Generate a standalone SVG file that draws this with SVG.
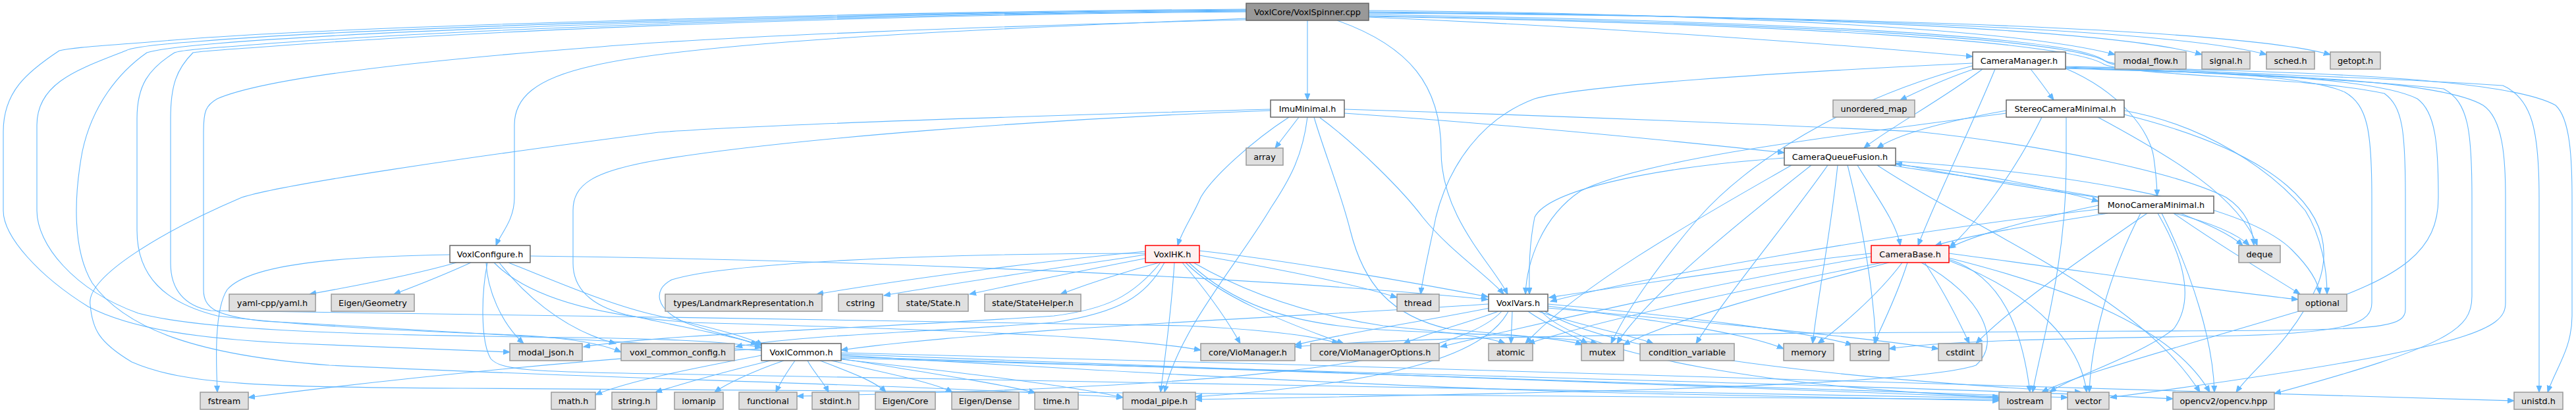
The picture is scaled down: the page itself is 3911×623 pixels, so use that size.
<svg xmlns="http://www.w3.org/2000/svg" width="3911" height="623" viewBox="0 0 3911 623">
<style>
.e{fill:none;stroke:#63B8FF;stroke-width:1.1;marker-end:url(#a)}
.nw{fill:#FFFFFF;stroke:#666666;stroke-width:1.5}
.ng{fill:#E0E0E0;stroke:#999999;stroke-width:1.5}
.nr{fill:#FFF0F0;stroke:#FF0000;stroke-width:1.5}
.nm{fill:#999999;stroke:#666666;stroke-width:1.5}
text{font-family:"DejaVu Sans","Liberation Sans",Arial,sans-serif;font-size:12.8px;text-anchor:middle;fill:#000}
</style>
<defs>
<marker id="a" markerUnits="userSpaceOnUse" markerWidth="12" markerHeight="10" refX="10" refY="4" orient="auto"><path d="M0,0 L10,4 L0,8 z" fill="#63B8FF" stroke="#63B8FF"/></marker>
</defs>
<rect width="3911" height="623" fill="#FFFFFF"/>
<g id="edges">
<!-- main -->
<path class="e" d="M1985,31 L1985,152"/>
<path class="e" d="M2030,31 C2140,70 2188,130 2188,230 C2188,330 2265,400 2289,447"/>
<path class="e" d="M2078,26 C2450,42 2800,68 2995,86"/>
<path class="e" d="M2078,16 C2550,20 3050,40 3211,83"/>
<path class="e" d="M2078,18 C2650,22 3200,42 3343,83"/>
<path class="e" d="M2078,19 C2750,24 3300,44 3441,83"/>
<path class="e" d="M2078,20 C2850,25 3400,45 3538,83"/>
<path class="e" d="M2078,22 C2700,32 3150,55 3195,92 C3240,112 3500,110 3800,130 C3845,150 3855,200 3855,300 L3855,596"/>
<path class="e" d="M2078,24 C2700,34 3150,58 3200,95 C3240,114 3500,112 3710,135 C3748,155 3753,200 3753,300 L3753,450 C3753,500 3720,525 3453,598"/>
<path class="e" d="M2078,25 C2700,36 3140,62 3195,98 C3240,116 3500,116 3620,142 C3648,162 3652,200 3652,300 L3652,470 C3652,495 3620,500 3450,502 C3000,505 2200,505 1966,527"/>
<path class="e" d="M1892,28 C1450,45 1050,65 900,100 C810,120 781,150 781,190 L781,300 C781,335 760,355 753,373"/>
<path class="e" d="M1892,14 C1300,18 500,40 250,62 C150,70 110,72 90,77 C40,110 5,140 5,200 L5,320 C5,360 60,420 134,466 C200,500 300,515 450,522 C600,528 700,532 774,535"/>
<path class="e" d="M1892,15 C1300,19 550,42 300,63 C230,68 200,72 191,77 C120,105 56,125 56,190 L56,320 C56,370 110,440 210,476 C300,500 500,508 800,512 C1000,514 1100,518 1156,528"/>
<path class="e" d="M1892,16 C1300,20 600,44 330,66 C260,72 235,76 223,80 C180,110 140,160 125,230 C112,300 110,380 140,430 C190,500 300,540 500,555 C900,575 1400,585 1705,604"/>
<path class="e" d="M1892,17 C1300,21 650,46 360,70 C300,74 270,78 265,80 C225,105 208,130 208,180 L208,350 C208,420 250,460 330,480 C500,500 700,505 800,510 C880,515 920,525 943,535"/>
<path class="e" d="M1892,18 C1300,22 700,48 390,72 C330,76 305,78 293,80 C268,105 259,130 259,180 L259,400 C259,440 280,465 320,472 C700,480 1400,485 1800,495 C1900,500 1990,508 2032,522"/>
<path class="e" d="M1892,30 C1500,40 1100,55 900,72 C600,95 400,120 330,150 C312,160 309,170 309,200 L309,440 C309,470 330,480 400,488 C1000,520 1900,585 2500,598 C2800,603 2950,606 3035,609"/>
<!-- ImuMinimal -->
<path class="e" d="M1972,178 L1936,225"/>
<path class="e" d="M1957,178 C1900,215 1840,270 1823,300 C1810,330 1795,350 1788,373"/>
<path class="e" d="M1985,178 C1978,235 1960,270 1930,315 C1880,400 1790,500 1768,596"/>
<path class="e" d="M2041,172 C2300,190 2550,215 2709,232"/>
<path class="e" d="M2003,178 C2060,220 2130,290 2160,330 C2200,380 2260,420 2283,447"/>
<path class="e" d="M1929,168 C1600,180 1200,210 1000,243 C900,260 870,280 870,320 L870,400 C870,440 900,465 950,478 C1050,500 1120,512 1156,525"/>
<path class="e" d="M1929,166 C1500,178 1150,190 1000,201 C700,240 430,280 367,300 C250,350 130,420 137,463 C140,500 150,520 200,550 C280,585 400,588 700,590 C1500,596 2500,600 3035,607"/>
<path class="e" d="M2041,166 C2500,180 2800,195 2911,200 C3100,220 3300,260 3380,300 C3410,320 3420,345 3422,373"/>
<path class="e" d="M1995,178 C2010,230 2035,290 2050,350 C2070,430 2110,480 2200,500 C2300,510 2380,515 2402,524"/>
<!-- VoxlConfigure -->
<path class="e" d="M683,387 C520,390 380,400 345,440 C325,470 328,550 330,596"/>
<path class="e" d="M693,399 C620,420 520,438 470,447"/>
<path class="e" d="M715,399 C680,415 630,435 598,447"/>
<path class="e" d="M738,399 C740,440 760,490 795,522"/>
<path class="e" d="M758,399 C790,440 850,500 935,522"/>
<path class="e" d="M772,399 C850,430 930,465 1000,480 C1070,495 1130,510 1158,524"/>
<path class="e" d="M805,389 C1300,395 1900,420 2259,455"/>
<path class="e" d="M750,399 C800,450 900,480 1050,490 C1400,500 1700,510 1823,532"/>
<path class="e" d="M740,399 C730,450 730,520 745,545 C760,562 800,565 1000,568 C1800,580 2600,600 3035,605"/>
<!-- VoxlHK -->
<path class="e" d="M1739,382 C1600,395 1400,420 1240,447"/>
<path class="e" d="M1739,387 C1620,405 1450,430 1342,449"/>
<path class="e" d="M1742,392 C1650,410 1550,430 1472,447"/>
<path class="e" d="M1760,399 C1700,415 1650,432 1610,447"/>
<path class="e" d="M1739,385 C1400,385 1100,400 1020,425 C990,440 995,470 1040,490 C1080,505 1120,512 1150,524"/>
<path class="e" d="M1762,399 C1720,450 1680,470 1600,480 C1300,500 1000,508 886,527"/>
<path class="e" d="M1768,399 C1740,450 1700,475 1600,490 C1400,505 1200,510 1117,527"/>
<path class="e" d="M1795,399 C1830,440 1860,480 1883,522"/>
<path class="e" d="M1783,399 C1780,450 1772,520 1762,596"/>
<path class="e" d="M1821,381 C1950,395 2150,430 2259,451"/>
<path class="e" d="M1821,388 C1950,410 2050,430 2121,452"/>
<path class="e" d="M1812,399 C1900,450 2000,480 2100,495 C2200,505 2260,512 2285,522"/>
<path class="e" d="M1805,399 C1870,460 1950,490 2080,500 C2200,508 2380,510 2425,522"/>
<path class="e" d="M1800,399 C1850,450 1950,490 2040,522"/>
<!-- VoxlVars -->
<path class="e" d="M2275,473 C2230,490 2170,505 2131,522"/>
<path class="e" d="M2296,473 L2294,522"/>
<path class="e" d="M2320,473 C2350,495 2390,510 2410,522"/>
<path class="e" d="M2335,473 C2400,495 2480,510 2510,522"/>
<path class="e" d="M2350,465 C2500,485 2650,505 2708,530"/>
<path class="e" d="M2350,462 C2550,480 2750,505 2812,524"/>
<path class="e" d="M2350,468 C2600,490 2850,515 2943,530"/>
<path class="e" d="M2260,462 C2000,480 1500,500 1277,532"/>
<path class="e" d="M2262,468 C2150,490 2050,505 1966,524"/>
<path class="e" d="M2290,473 C2260,530 2150,580 1815,603"/>
<path class="e" d="M2340,473 C2400,540 2700,590 3035,603"/>
<path class="e" d="M2345,473 C2450,540 2800,575 3160,596"/>
<path class="e" d="M2280,473 C2200,560 1800,590 1210,602"/>
<!-- CameraBase -->
<path class="e" d="M2841,385 C2700,400 2500,430 2352,452"/>
<path class="e" d="M2841,390 C2600,430 2300,500 2187,527"/>
<path class="e" d="M2858,399 C2700,430 2450,480 2320,522"/>
<path class="e" d="M2868,399 C2750,430 2550,480 2465,524"/>
<path class="e" d="M2888,399 C2850,450 2790,500 2760,522"/>
<path class="e" d="M2896,399 C2880,450 2855,500 2845,522"/>
<path class="e" d="M2922,399 C2950,440 2975,490 2990,522"/>
<path class="e" d="M2959,385 C3150,410 3350,440 3489,455"/>
<path class="e" d="M2959,392 C3150,440 3300,500 3355,596"/>
<path class="e" d="M2959,394 C3040,420 3070,500 3082,596"/>
<path class="e" d="M2959,396 C3100,450 3160,530 3168,596"/>
<path class="e" d="M2917,399 C3010,450 3040,520 3000,555 C2900,590 2200,600 1815,607"/>
<!-- CameraManager -->
<path class="e" d="M3000,104 C2950,120 2910,140 2885,152"/>
<path class="e" d="M3083,105 C3095,120 3108,138 3118,152"/>
<path class="e" d="M3136,104 C3220,140 3265,200 3270,240 C3274,270 3275,285 3275,298"/>
<path class="e" d="M3010,105 C2950,150 2860,200 2830,225"/>
<path class="e" d="M3029,105 C2990,200 2940,300 2912,373"/>
<path class="e" d="M2995,96 C2700,110 2400,130 2330,150 C2250,180 2200,250 2180,330 C2170,380 2160,420 2157,447"/>
<path class="e" d="M2995,100 C2800,150 2650,250 2580,330 C2520,400 2470,470 2446,522"/>
<path class="e" d="M3136,102 C3300,108 3500,112 3560,140 C3595,160 3601,200 3601,300 L3601,460 C3601,490 3570,505 3400,510 C3100,515 2950,518 2868,530"/>
<path class="e" d="M3136,103 C3350,110 3600,115 3670,150 C3698,170 3702,220 3702,300 C3702,380 3650,420 3500,470 C3300,530 3150,570 3100,596"/>
<path class="e" d="M3136,104 C3400,112 3700,118 3770,160 C3800,180 3804,240 3804,300 L3804,460 C3804,500 3760,530 3204,604"/>
<path class="e" d="M3136,101 C3450,108 3800,115 3880,160 C3902,180 3905,240 3905,300 L3905,480 C3905,530 3880,560 3868,596"/>
<!-- CameraQueueFusion -->
<path class="e" d="M2820,251 C2850,300 2880,340 2885,373"/>
<path class="e" d="M2709,240 C2500,255 2350,290 2330,330 C2320,380 2322,420 2322,447"/>
<path class="e" d="M2720,251 C2600,320 2400,430 2316,522"/>
<path class="e" d="M2750,251 C2650,330 2500,450 2455,522"/>
<path class="e" d="M2775,251 C2720,330 2620,450 2575,522"/>
<path class="e" d="M2790,251 C2780,350 2760,450 2752,522"/>
<path class="e" d="M2805,251 C2830,350 2845,450 2848,522"/>
<path class="e" d="M2870,251 C3050,280 3350,310 3415,373"/>
<path class="e" d="M2878,245 C3100,260 3400,300 3480,380 C3510,410 3520,430 3522,447"/>
<path class="e" d="M2878,250 C3000,262 3100,282 3186,306"/>
<path class="e" d="M2850,251 C3000,350 3250,450 3340,596"/>
<!-- StereoCameraMinimal -->
<path class="e" d="M3046,168 C2950,185 2880,205 2850,225"/>
<path class="e" d="M3100,178 C3060,260 3000,340 2960,376"/>
<path class="e" d="M3137,178 L3137,250 C3137,400 3100,520 3086,596"/>
<path class="e" d="M3185,178 C3300,240 3400,300 3427,373"/>
<path class="e" d="M3225,168 C3350,190 3450,260 3500,320 C3525,360 3533,410 3533,447"/>
<path class="e" d="M3225,174 C3450,230 3560,320 3520,430 C3480,520 3420,560 3395,596"/>
<path class="e" d="M3046,172 C2800,205 2500,240 2400,290 C2340,330 2318,400 2316,447"/>
<!-- MonoCameraMinimal -->
<path class="e" d="M3186,312 C3100,330 3000,355 2959,377"/>
<path class="e" d="M3200,324 C3100,340 3000,355 2938,373"/>
<path class="e" d="M3186,300 C3050,282 2950,262 2878,248"/>
<path class="e" d="M3186,318 C2900,350 2500,420 2354,458"/>
<path class="e" d="M3260,324 C3150,400 3050,470 3000,522"/>
<path class="e" d="M3310,324 C3350,340 3385,355 3405,373"/>
<path class="e" d="M3300,324 C3380,380 3450,420 3492,447"/>
<path class="e" d="M3282,324 C3330,420 3360,520 3362,596"/>
<path class="e" d="M3276,324 C3320,400 3330,460 3300,500 C3250,540 3150,570 3112,596"/>
<path class="e" d="M3250,324 C3200,420 3175,520 3172,596"/>
<!-- VoxlCommon -->
<path class="e" d="M1156,530 C900,545 600,575 377,604"/>
<path class="e" d="M1156,540 C1050,560 950,580 904,600"/>
<path class="e" d="M1170,548 C1100,565 1030,585 995,596"/>
<path class="e" d="M1190,548 C1140,565 1100,585 1085,596"/>
<path class="e" d="M1207,548 C1195,565 1185,580 1178,596"/>
<path class="e" d="M1226,548 C1235,565 1250,580 1258,596"/>
<path class="e" d="M1245,548 C1290,565 1330,580 1345,596"/>
<path class="e" d="M1262,548 C1340,565 1420,582 1446,596"/>
<path class="e" d="M1277,545 C1400,565 1530,585 1572,597"/>
<path class="e" d="M1277,546 C1450,565 1620,585 1705,604"/>
<path class="e" d="M1277,538 C2000,560 2700,590 3035,604"/>
<path class="e" d="M1277,542 C2000,565 2800,590 3139,604"/>
<path class="e" d="M1277,544 C2200,570 3000,590 3299,606"/>
<path class="e" d="M1277,536 C2200,560 3300,590 3817,609"/>
</g>
<g id="n_main"><rect class="nm" x="1892" y="5" width="186" height="26"/><text x="1985" y="22.5">VoxlCore/VoxlSpinner.cpp</text></g>
<g id="n_CameraManager"><rect class="nw" x="2995" y="79" width="141" height="26"/><text x="3065.5" y="96.5">CameraManager.h</text></g>
<g id="n_modal_flow"><rect class="ng" x="3211" y="79" width="108" height="26"/><text x="3265" y="96.5">modal_flow.h</text></g>
<g id="n_signal"><rect class="ng" x="3343" y="79" width="73" height="26"/><text x="3379.5" y="96.5">signal.h</text></g>
<g id="n_sched"><rect class="ng" x="3441" y="79" width="73" height="26"/><text x="3477.5" y="96.5">sched.h</text></g>
<g id="n_getopt"><rect class="ng" x="3538" y="79" width="76" height="26"/><text x="3576" y="96.5">getopt.h</text></g>
<g id="n_ImuMinimal"><rect class="nw" x="1929" y="152" width="112" height="26"/><text x="1985" y="169.5">ImuMinimal.h</text></g>
<g id="n_unordered_map"><rect class="ng" x="2783" y="152" width="124" height="26"/><text x="2845" y="169.5">unordered_map</text></g>
<g id="n_StereoCameraMinimal"><rect class="nw" x="3046" y="152" width="179" height="26"/><text x="3135.5" y="169.5">StereoCameraMinimal.h</text></g>
<g id="n_array"><rect class="ng" x="1892" y="225" width="56" height="26"/><text x="1920" y="242.5">array</text></g>
<g id="n_CameraQueueFusion"><rect class="nw" x="2709" y="225" width="169" height="26"/><text x="2793.5" y="242.5">CameraQueueFusion.h</text></g>
<g id="n_MonoCameraMinimal"><rect class="nw" x="3186" y="298" width="175" height="26"/><text x="3273.5" y="315.5">MonoCameraMinimal.h</text></g>
<g id="n_VoxlConfigure"><rect class="nw" x="683" y="373" width="122" height="26"/><text x="744" y="390.5">VoxlConfigure.h</text></g>
<g id="n_VoxlHK"><rect class="nr" x="1739" y="373" width="82" height="26"/><text x="1780" y="390.5">VoxlHK.h</text></g>
<g id="n_CameraBase"><rect class="nr" x="2841" y="373" width="118" height="26"/><text x="2900" y="390.5">CameraBase.h</text></g>
<g id="n_deque"><rect class="ng" x="3399" y="373" width="63" height="26"/><text x="3430.5" y="390.5">deque</text></g>
<g id="n_yaml"><rect class="ng" x="348" y="447" width="131" height="26"/><text x="413.5" y="464.5">yaml-cpp/yaml.h</text></g>
<g id="n_EigenGeometry"><rect class="ng" x="503" y="447" width="126" height="26"/><text x="566" y="464.5">Eigen/Geometry</text></g>
<g id="n_Landmark"><rect class="ng" x="1010" y="447" width="238" height="26"/><text x="1129" y="464.5">types/LandmarkRepresentation.h</text></g>
<g id="n_cstring"><rect class="ng" x="1273" y="447" width="67" height="26"/><text x="1306.5" y="464.5">cstring</text></g>
<g id="n_State"><rect class="ng" x="1364" y="447" width="106" height="26"/><text x="1417" y="464.5">state/State.h</text></g>
<g id="n_StateHelper"><rect class="ng" x="1495" y="447" width="146" height="26"/><text x="1568" y="464.5">state/StateHelper.h</text></g>
<g id="n_thread"><rect class="ng" x="2121" y="447" width="64" height="26"/><text x="2153" y="464.5">thread</text></g>
<g id="n_VoxlVars"><rect class="nw" x="2260" y="447" width="90" height="26"/><text x="2305" y="464.5">VoxlVars.h</text></g>
<g id="n_optional"><rect class="ng" x="3489" y="447" width="74" height="26"/><text x="3526" y="464.5">optional</text></g>
<g id="n_modal_json"><rect class="ng" x="774" y="522" width="110" height="26"/><text x="829" y="539.5">modal_json.h</text></g>
<g id="n_voxl_common_config"><rect class="ng" x="943" y="522" width="172" height="26"/><text x="1029" y="539.5">voxl_common_config.h</text></g>
<g id="n_VoxlCommon"><rect class="nw" x="1156" y="522" width="121" height="26"/><text x="1216.5" y="539.5">VoxlCommon.h</text></g>
<g id="n_VioManager"><rect class="ng" x="1823" y="522" width="143" height="26"/><text x="1894.5" y="539.5">core/VioManager.h</text></g>
<g id="n_VioManagerOptions"><rect class="ng" x="1990" y="522" width="195" height="26"/><text x="2087.5" y="539.5">core/VioManagerOptions.h</text></g>
<g id="n_atomic"><rect class="ng" x="2260" y="522" width="67" height="26"/><text x="2293.5" y="539.5">atomic</text></g>
<g id="n_mutex"><rect class="ng" x="2401" y="522" width="64" height="26"/><text x="2433" y="539.5">mutex</text></g>
<g id="n_condition_variable"><rect class="ng" x="2490" y="522" width="143" height="26"/><text x="2561.5" y="539.5">condition_variable</text></g>
<g id="n_memory"><rect class="ng" x="2708" y="522" width="76" height="26"/><text x="2746" y="539.5">memory</text></g>
<g id="n_string"><rect class="ng" x="2809" y="522" width="59" height="26"/><text x="2838.5" y="539.5">string</text></g>
<g id="n_cstdint"><rect class="ng" x="2943" y="522" width="66" height="26"/><text x="2976" y="539.5">cstdint</text></g>
<g id="n_fstream"><rect class="ng" x="304" y="596" width="73" height="26"/><text x="340.5" y="613.5">fstream</text></g>
<g id="n_math"><rect class="ng" x="837" y="596" width="67" height="26"/><text x="870.5" y="613.5">math.h</text></g>
<g id="n_string_h"><rect class="ng" x="929" y="596" width="68" height="26"/><text x="963" y="613.5">string.h</text></g>
<g id="n_iomanip"><rect class="ng" x="1024" y="596" width="74" height="26"/><text x="1061" y="613.5">iomanip</text></g>
<g id="n_functional"><rect class="ng" x="1122" y="596" width="88" height="26"/><text x="1166" y="613.5">functional</text></g>
<g id="n_stdint"><rect class="ng" x="1233" y="596" width="71" height="26"/><text x="1268.5" y="613.5">stdint.h</text></g>
<g id="n_EigenCore"><rect class="ng" x="1329" y="596" width="91" height="26"/><text x="1374.5" y="613.5">Eigen/Core</text></g>
<g id="n_EigenDense"><rect class="ng" x="1445" y="596" width="102" height="26"/><text x="1496" y="613.5">Eigen/Dense</text></g>
<g id="n_time"><rect class="ng" x="1571" y="596" width="66" height="26"/><text x="1604" y="613.5">time.h</text></g>
<g id="n_modal_pipe"><rect class="ng" x="1705" y="596" width="110" height="26"/><text x="1760" y="613.5">modal_pipe.h</text></g>
<g id="n_iostream"><rect class="ng" x="3035" y="596" width="79" height="26"/><text x="3074.5" y="613.5">iostream</text></g>
<g id="n_vector"><rect class="ng" x="3139" y="596" width="63" height="26"/><text x="3170.5" y="613.5">vector</text></g>
<g id="n_opencv"><rect class="ng" x="3299" y="596" width="154" height="26"/><text x="3376" y="613.5">opencv2/opencv.hpp</text></g>
<g id="n_unistd"><rect class="ng" x="3817" y="596" width="74" height="26"/><text x="3854" y="613.5">unistd.h</text></g>
</svg>
